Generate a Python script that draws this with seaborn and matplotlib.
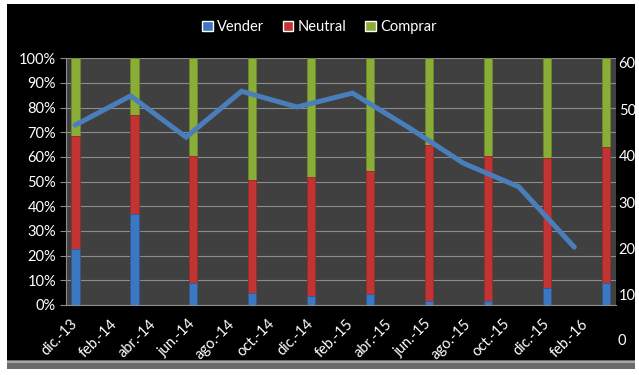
import numpy as np
import pandas as pd
import matplotlib
matplotlib.use("Agg")
import matplotlib.pyplot as plt
from matplotlib.patches import Rectangle, Patch
import seaborn as sns

# tick labels (every 2 months from dic-13)
month_labels = ["dic.-13", "feb.-14", "abr.-14", "jun.-14", "ago.-14", "oct.-14", "dic.-14",
                "feb.-15", "abr.-15", "jun.-15", "ago.-15", "oct.-15", "dic.-15", "feb.-16"]

# stacked bars, quarterly
bar_months = ["2013-12", "2014-03", "2014-06", "2014-09", "2014-12",
              "2015-03", "2015-06", "2015-09", "2015-12", "2016-03"]
vender = [22.5, 37.0, 9.0, 4.7, 3.5, 4.5, 1.5, 1.5, 7.0, 9.0]
neutral = [46.0, 40.0, 51.5, 46.0, 48.5, 50.0, 63.5, 59.0, 52.7, 55.0]
comprar = [31.5, 23.0, 39.5, 49.3, 48.0, 45.5, 35.0, 39.5, 40.3, 36.0]

# line on secondary axis
line_values = [46.6, 52.9, 44.0, 53.9, 50.5, 53.5, 46.2, 38.4, 33.3, 20.3]

blue = "#3b78c4"
red = "#c23434"
green = "#8aad38"
line_color = "#4a7ebb"

sns.set_style("dark")
plt.rcParams["font.family"] = ["Lato", "DejaVu Sans"]

start = pd.Period("2013-12", "M")
df = pd.DataFrame({"month": bar_months, "Vender": vender, "Neutral": neutral, "Comprar": comprar})
df["pos"] = [(pd.Period(m, "M") - start).n + 0.5 for m in df["month"]]
df["neutral_top"] = df["Vender"] + df["Neutral"]
df["total"] = df["neutral_top"] + df["Comprar"]

fig = plt.figure(figsize=(6.39, 3.75), dpi=100, facecolor="white")
W, H = 639, 375
fig.patches.append(Rectangle((7 / W, 1 - 360 / H), 628 / W, 356 / H, transform=fig.transFigure,
                             facecolor="black", edgecolor="none", zorder=-10))
fig.patches.append(Rectangle((7 / W, 1 - 369 / H), 628 / W, 9 / H, transform=fig.transFigure,
                             facecolor="#6a6a6a", edgecolor="none", zorder=-10))
fig.patches.append(Rectangle((7 / W, 1 - 363 / H), 628 / W, 2 / H, transform=fig.transFigure,
                             facecolor="#a8a8a8", edgecolor="none", zorder=-9))

ax = fig.add_axes([65.7 / W, 1 - 305 / H, 550.2 / W, 246.7 / H])
ax.set_facecolor("#404040")

for col, color, edge in [("total", green, "#6b8a28"), ("neutral_top", red, "#962626"),
                         ("Vender", blue, "#2b5a94")]:
    sns.barplot(data=df, x="pos", y=col, native_scale=True, width=0.137, color=color,
                saturation=1, errorbar=None, ax=ax, linewidth=0.6, edgecolor=edge)

ax.set_xlim(0, 28)
ax.set_ylim(0, 100)
ax.set_xlabel("")
ax.set_ylabel("")
ax.set_xticks(np.arange(0, 29, 2))
ax.set_xticklabels([])
ax.set_xticks(np.arange(0.5, 28, 2), minor=True)
ax.set_xticklabels(month_labels, minor=True, rotation=45, ha="right", va="center",
                   rotation_mode="anchor", color="white", fontsize=10.5)
ax.tick_params(axis="x", which="major", length=5, color="#8c8c8c")
ax.tick_params(axis="x", which="minor", length=0, pad=12)
ax.set_yticks(range(0, 101, 10))
ax.set_yticklabels([f"{v}%" for v in range(0, 101, 10)], color="white", fontsize=10.5)
ax.tick_params(axis="y", length=4, color="#8c8c8c", pad=3, left=True)
ax.grid(axis="y", color="#8c8c8c", linewidth=0.8)
ax.grid(axis="x", visible=False)
ax.set_axisbelow(True)
for side in ["top", "right"]:
    ax.spines[side].set_visible(False)
for side in ["left", "bottom"]:
    ax.spines[side].set_color("#8c8c8c")
    ax.spines[side].set_linewidth(0.8)

ax2 = ax.twinx()
ax3 = ax2.twiny()
sns.lineplot(x=np.arange(len(line_values)), y=line_values, ax=ax3, color=line_color,
             linewidth=3.6, solid_joinstyle="miter")
ax3.set_xlim(-0.17, 9.75)
ax2.set_ylim(7.84, 61.0)
ax2.set_yticks(range(10, 61, 10))
ax2.set_yticklabels([str(v) for v in range(10, 61, 10)], color="white", fontsize=10.5)
ax2.tick_params(axis="y", length=0, pad=2)
ax2.annotate("0", xy=(1, 0), xycoords=ax2.get_yaxis_transform(), xytext=(1.5, 0),
             textcoords="offset points", ha="left", va="center", color="white",
             fontsize=10.5, annotation_clip=False)
ax3.xaxis.set_visible(False)
ax3.set_xlabel("")
ax3.set_ylabel("")
ax2.set_ylabel("")
for a in (ax2, ax3):
    for s in a.spines.values():
        s.set_visible(False)

handles = [Patch(facecolor=blue), Patch(facecolor=red), Patch(facecolor=green)]
fig.legend(handles, ["Vender", "Neutral", "Comprar"], loc="center", bbox_to_anchor=(0.5, 1 - 27 / H),
           ncol=3, frameon=False, labelcolor="white", fontsize=10.5, handlelength=0.7,
           handleheight=0.7, handletextpad=0.3, columnspacing=1.3)

fig.savefig("out.png", dpi=100, facecolor=fig.get_facecolor())
